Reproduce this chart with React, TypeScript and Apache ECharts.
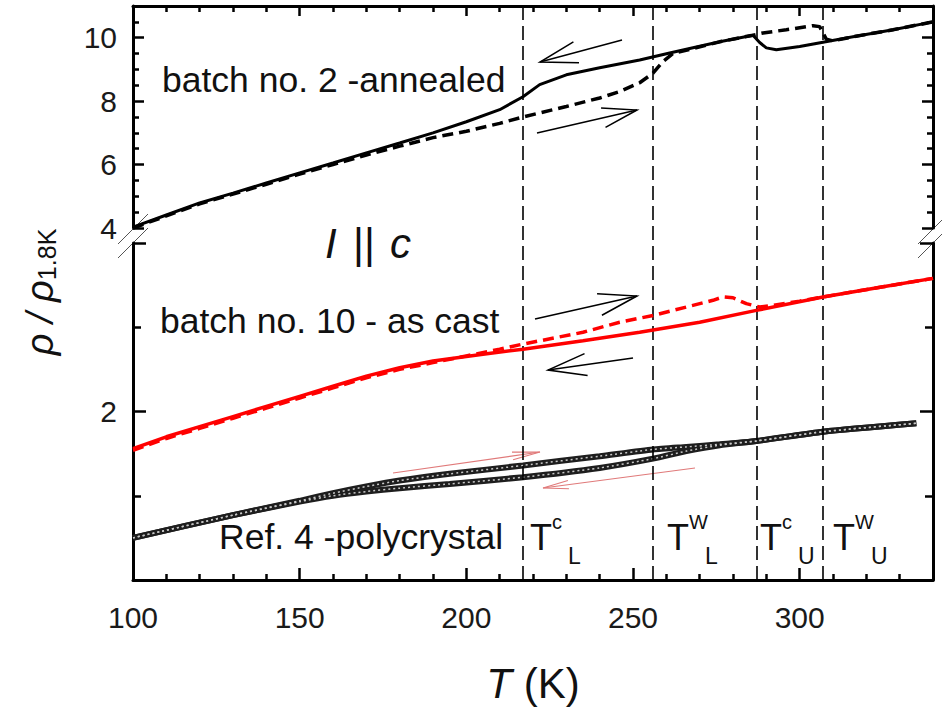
import React, { useEffect, useRef } from 'react';
import * as echarts from 'echarts';

// batch no. 2 - annealed (upper panel), cooling (solid) and heating (dashed)
const annealCoolT = [100, 110, 120, 130, 140, 150, 160, 170, 180, 190, 200, 210, 217, 222, 230, 240, 252, 261, 276, 286, 288, 290, 293, 300, 307, 316, 328, 340];
const annealCoolV = [4.03, 4.41, 4.79, 5.1, 5.42, 5.74, 6.05, 6.37, 6.68, 7.0, 7.35, 7.73, 8.14, 8.52, 8.83, 9.05, 9.3, 9.52, 9.87, 10.08, 9.85, 9.68, 9.62, 9.72, 9.86, 10.03, 10.25, 10.5];
const annealHeatT = [100, 110, 120, 130, 140, 150, 160, 170, 180, 190, 200, 210, 217, 230, 240, 246, 252, 256, 259, 262, 276, 286, 289, 296, 304, 306, 308, 310, 316, 328, 340];
const annealHeatV = [4.0, 4.38, 4.76, 5.07, 5.38, 5.7, 6.0, 6.3, 6.58, 6.85, 7.05, 7.3, 7.5, 7.83, 8.1, 8.3, 8.58, 8.88, 9.25, 9.5, 9.87, 10.08, 10.15, 10.25, 10.38, 10.35, 9.95, 9.9, 10.03, 10.25, 10.5];

// batch no. 10 - as cast (lower panel, red)
const castCoolT = [100, 110, 120, 130, 140, 150, 160, 170, 180, 190, 205, 217, 235, 252, 270, 287, 307, 325, 340];
const castCoolV = [1.78, 1.85, 1.91, 1.97, 2.03, 2.09, 2.15, 2.21, 2.26, 2.3, 2.34, 2.37, 2.42, 2.47, 2.53, 2.6, 2.68, 2.74, 2.79];
const castHeatT = [100, 110, 120, 130, 140, 150, 160, 170, 180, 190, 200, 210, 217, 235, 246, 256, 266, 274, 277, 280, 284, 288, 292, 300, 307, 325, 340];
const castHeatV = [1.77, 1.84, 1.9, 1.96, 2.02, 2.08, 2.14, 2.2, 2.25, 2.29, 2.33, 2.37, 2.4, 2.47, 2.53, 2.57, 2.62, 2.66, 2.68, 2.675, 2.64, 2.62, 2.63, 2.655, 2.68, 2.74, 2.79];

// Ref. 4 - polycrystal (lower panel)
const refHeatT = [100, 130, 150, 160, 170, 180, 195, 217, 240, 256, 266, 276, 287, 307, 335];
const refHeatV = [1.25, 1.385, 1.47, 1.515, 1.555, 1.59, 1.63, 1.68, 1.735, 1.775, 1.79, 1.805, 1.825, 1.88, 1.93];
const refCoolT = [100, 130, 150, 160, 170, 180, 195, 217, 240, 256, 266, 276, 287, 307, 335];
const refCoolV = [1.25, 1.385, 1.465, 1.5, 1.525, 1.545, 1.57, 1.61, 1.665, 1.72, 1.765, 1.8, 1.825, 1.88, 1.93];

// transition temperatures T^c_L, T^w_L, T^c_U, T^w_U
const transitionT = [217, 256, 287, 307];

const xTicks = [100, 150, 200, 250, 300];
const upperYTicks = [4, 6, 8, 10];
const lowerYTicks = [2];

const zip = (a: number[], b: number[]) => a.map((t, i) => [t, b[i]]);

const FONT = '"Liberation Sans", Arial, sans-serif';

function arrowEls(from: number[], to: number[], color: string, w: number, len: number, spread: number) {
  const ang = Math.atan2(from[1] - to[1], from[0] - to[0]);
  const p1 = [to[0] + len * Math.cos(ang + spread), to[1] + len * Math.sin(ang + spread)];
  const p2 = [to[0] + len * Math.cos(ang - spread), to[1] + len * Math.sin(ang - spread)];
  return [
    { type: 'line', silent: true, shape: { x1: from[0], y1: from[1], x2: to[0], y2: to[1] }, style: { stroke: color, lineWidth: w } },
    { type: 'polyline', silent: true, shape: { points: [p1, to, p2] }, style: { stroke: color, lineWidth: w, fill: null } },
  ];
}

function breakMarks(cx: number, cy: number) {
  return [0, 14].map((d) => ({
    type: 'line',
    silent: true,
    shape: { x1: cx - 15, y1: cy + d + 15, x2: cx + 15, y2: cy + d - 15 },
    style: { stroke: '#555', lineWidth: 1 },
  }));
}

function txt(x: number, y: number, text: string, size: number, italic = false) {
  return {
    type: 'text', x, y, silent: true,
    style: { text, font: `${italic ? 'italic ' : ''}${size}px ${FONT}`, fill: '#111', align: 'left', verticalAlign: 'middle' },
  };
}

function tLabel(x: number, sup: string, sub: string) {
  return [txt(x, 537, 'T', 36), txt(x + 22, 522, sup, 20), txt(x + 38, 556, sub, 23)];
}

export default function App() {
  const ref = useRef<HTMLDivElement>(null);
  useEffect(() => {
    document.body.style.margin = '0';
    const chart = echarts.init(ref.current!, null, { renderer: 'svg' });
    const axisLine = { show: true, lineStyle: { color: '#000', width: 3 } };
    const tick = { show: true, inside: true, length: 11, lineStyle: { color: '#000', width: 2.5 } };
    const minor = (n: number) => ({ show: true, splitNumber: n, length: 6, lineStyle: { color: '#000', width: 2.5 } });
    const labelStyle = { color: '#1a1a1a', fontSize: 30, fontFamily: FONT };
    const lineBase = { type: 'line', showSymbol: false, symbol: 'none', silent: true, smooth: false };

    const refStyle = (data: number[][]) => [
      { ...lineBase, smooth: 0.2, xAxisIndex: 1, yAxisIndex: 2, data, lineStyle: { color: '#1e1e1e', width: 6 }, z: 3 },
      { ...lineBase, smooth: 0.2, xAxisIndex: 1, yAxisIndex: 2, data, lineStyle: { color: '#c8c8c8', width: 1.5, type: [2, 3] }, z: 4 },
    ];

    const option: any = {
      animation: false,
      grid: [
        { left: 133, top: 6, width: 800, height: 222 },
        { left: 133, top: 243, width: 800, height: 337 },
        { left: 133, top: 6, width: 800, height: 574 },
      ],
      xAxis: [
        {
          type: 'value', gridIndex: 0, position: 'top', min: 100, max: 340, interval: 50,
          axisLine, axisTick: { ...tick, length: 10 }, minorTick: minor(5), axisLabel: { show: false }, splitLine: { show: false },
        },
        {
          type: 'value', gridIndex: 1, position: 'bottom', min: 100, max: 340, interval: 50,
          axisLine, axisTick: { ...tick, length: 12 }, minorTick: minor(5), splitLine: { show: false },
          axisLabel: { ...labelStyle, margin: 22, showMaxLabel: false, formatter: (v: number) => (xTicks.includes(v) ? String(v) : '') },
        },
        { type: 'value', gridIndex: 2, min: 100, max: 340, show: false },
      ],
      yAxis: [
        {
          type: 'value', gridIndex: 0, position: 'left', min: 4, max: 11, interval: 2,
          axisLine, axisTick: tick, minorTick: minor(4), splitLine: { show: false },
          axisLabel: { ...labelStyle, margin: 16, showMaxLabel: false, formatter: (v: number) => (upperYTicks.includes(v) ? String(v) : '') },
        },
        {
          type: 'value', gridIndex: 0, position: 'right', min: 4, max: 11, interval: 2,
          axisLine, axisTick: tick, minorTick: minor(4), splitLine: { show: false }, axisLabel: { show: false },
        },
        {
          type: 'value', gridIndex: 1, position: 'left', min: 1, max: 3, interval: 1,
          axisLine, axisTick: { ...tick, length: 13 }, minorTick: { ...minor(2), length: 8 }, splitLine: { show: false },
          axisLabel: { ...labelStyle, margin: 16, showMinLabel: false, showMaxLabel: false, formatter: (v: number) => (lowerYTicks.includes(v) ? String(v) : '') },
        },
        {
          type: 'value', gridIndex: 1, position: 'right', min: 1, max: 3, interval: 1,
          axisLine, axisTick: { ...tick, length: 13 }, minorTick: { ...minor(2), length: 8 }, splitLine: { show: false }, axisLabel: { show: false },
        },
        { type: 'value', gridIndex: 2, min: 0, max: 1, show: false },
      ],
      series: [
        { ...lineBase, xAxisIndex: 0, yAxisIndex: 0, data: zip(annealCoolT, annealCoolV), lineStyle: { color: '#000', width: 3 }, z: 5 },
        { ...lineBase, xAxisIndex: 0, yAxisIndex: 0, data: zip(annealHeatT, annealHeatV), lineStyle: { color: '#000', width: 3.5, type: [11, 6] }, z: 5 },
        ...refStyle(zip(refHeatT, refHeatV)),
        ...refStyle(zip(refCoolT, refCoolV)),
        { ...lineBase, xAxisIndex: 1, yAxisIndex: 2, data: zip(castCoolT, castCoolV), lineStyle: { color: '#ff0000', width: 3.5 }, z: 5 },
        { ...lineBase, xAxisIndex: 1, yAxisIndex: 2, data: zip(castHeatT, castHeatV), lineStyle: { color: '#ff0000', width: 3.5, type: [11, 6] }, z: 5 },
        {
          type: 'line', xAxisIndex: 2, yAxisIndex: 4, data: [], silent: true,
          markLine: {
            silent: true, symbol: ['none', 'none'], label: { show: false },
            lineStyle: { color: '#000', width: 1.6, type: [14, 6] },
            data: transitionT.map((t) => ({ xAxis: t })),
          },
        },
      ],
      graphic: [
        ...breakMarks(133, 229),
        ...breakMarks(933, 229),
        txt(162, 80, 'batch no. 2 -annealed', 35.5),
        txt(160, 321, 'batch no. 10 - as cast', 35.5),
        txt(219, 537, 'Ref. 4 -polycrystal', 35.5),
        txt(325, 243, 'I', 42, true),
        txt(353, 243, '||', 42),
        txt(390, 243, 'c', 42, true),
        ...tLabel(530, 'c', 'L'),
        ...tLabel(667, 'W', 'L'),
        ...tLabel(760, 'c', 'U'),
        ...tLabel(833, 'W', 'U'),
        ...arrowEls([622, 40], [540, 62], '#000', 1.5, 39, 0.28),
        ...arrowEls([537, 133], [637, 110], '#000', 1.5, 36, 0.28),
        ...arrowEls([535, 319], [637, 296], '#000', 1.5, 40, 0.28),
        ...arrowEls([633, 358], [548, 370], '#000', 1.5, 40, 0.28),
        ...arrowEls([393, 473], [540, 452], '#e07a7a', 1.2, 28, 0.14),
        ...arrowEls([695, 468], [543, 488], '#e07a7a', 1.2, 26, 0.16),
        {
          type: 'text', x: 533, y: 683,
          style: {
            text: '{i|T} (K)', align: 'center', verticalAlign: 'middle', font: `42px ${FONT}`, fill: '#111',
            rich: { i: { fontSize: 42, fontStyle: 'italic', fontFamily: FONT, fill: '#111' } },
          },
        },
        {
          type: 'text', x: 40, y: 292, rotation: Math.PI / 2,
          style: {
            text: '{r|ρ} {r|/} {r|ρ}{s|1.8K}', align: 'center', verticalAlign: 'middle', font: `38px ${FONT}`, fill: '#111',
            rich: {
              r: { fontSize: 38, fontStyle: 'italic', fontFamily: FONT, fill: '#111' },
              s: { fontSize: 25, fontFamily: FONT, fill: '#111', verticalAlign: 'bottom', padding: [14, 0, 0, 0] },
            },
          },
        },
      ],
    };
    chart.setOption(option);
    return () => chart.dispose();
  }, []);
  return <div ref={ref} style={{ width: 942, height: 713 }} />;
}
